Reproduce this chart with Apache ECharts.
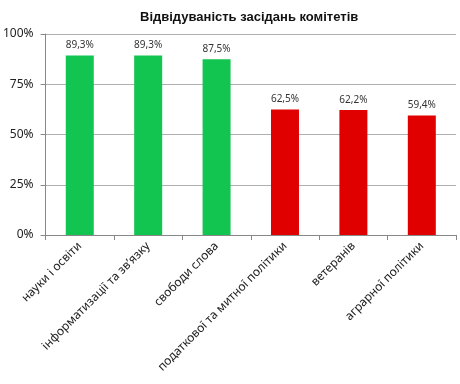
<!DOCTYPE html>
<html><head><meta charset="utf-8">
<script src="https://cdn.jsdelivr.net/npm/echarts@6/dist/echarts.min.js"></script>
<style>html,body{margin:0;padding:0;background:#fff}#c{width:460px;height:384px}</style>
</head><body><div id="c"></div>
<script>
const titleText = 'Відвідуваність засідань комітетів';
const categories = ['науки і освіти', 'інформатизації та зв’язку', 'свободи слова', 'податкової та митної політики', 'ветеранів', 'аграрної політики'];
const values = [89.3, 89.3, 87.5, 62.5, 62.2, 59.4];
const barColors = ['#12c450', '#12c450', '#12c450', '#e00000', '#e00000', '#e00000'];
const yTicks = [0, 25, 50, 75, 100];

const chart = echarts.init(document.getElementById('c'));
const font = 'Noto Sans, sans-serif';
chart.setOption({
  animation: false,
  title: { text: titleText, left: 135, top: 6, textStyle: { fontFamily: 'Liberation Sans, sans-serif', fontSize: 13, fontWeight: 'bold', color: '#111' } },
  grid: { left: 45, right: 4, top: 34, bottom: 149 },
  xAxis: {
    type: 'category', data: categories,
    axisLine: { lineStyle: { color: '#888' } },
    axisTick: { show: true, lineStyle: { color: '#888' }, length: 5 },
    axisLabel: { rotate: 45, interval: 0, fontFamily: font, fontSize: 12, color: '#222', margin: 9 }
  },
  yAxis: {
    type: 'value', min: 0, max: 100, interval: 25,
    axisLine: { show: true, lineStyle: { color: '#888' } },
    axisTick: { show: true, inside: false, length: 5, lineStyle: { color: '#888' } },
    splitLine: { lineStyle: { color: '#b0b0b0', width: 1 } },
    axisLabel: { formatter: v => yTicks.includes(v) ? v + '%' : '', fontFamily: font, fontSize: 12, color: '#222', margin: 12 }
  },
  series: [{
    type: 'bar', barWidth: 28,
    data: values.map((v, i) => ({ value: v, itemStyle: { color: barColors[i] } })),
    label: { show: true, position: 'top', distance: 5, fontFamily: font, fontSize: 10, color: '#333',
      formatter: p => p.value.toFixed(1).replace('.', ',') + '%' }
  }]
});
</script></body></html>
